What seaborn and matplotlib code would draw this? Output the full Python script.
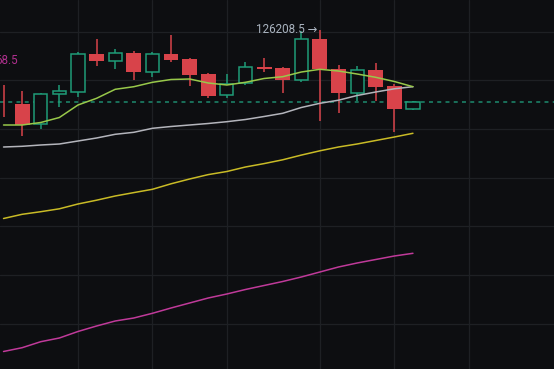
import numpy as np
import pandas as pd
import seaborn as sns
import matplotlib.pyplot as plt

# candle data
opens = [118628, 118546, 116493, 119573, 119840, 123741, 122992, 123844, 121893, 123710,
         123166, 121626, 119470, 120702, 122345, 122242, 121041, 125251, 122140, 119676,
         122068, 120425, 118064]
highs = [120528, 119912, 119706, 120497, 123947, 125251, 124193, 124018, 123885, 125661,
         123269, 121729, 121626, 122858, 123351, 122345, 126072, 126208.5, 122581, 122478,
         122817, 120600, 118885]
lows = [117273, 115322, 115979, 118300, 119265, 122509, 122140, 121041, 121318, 122858,
        120456, 119224, 119162, 120528, 121893, 119737, 120866, 116832, 117622, 118885,
        118885, 115671, 118012]
closes = [118526, 116421, 119604, 119881, 123710, 122992, 123844, 121893, 123710, 123094,
          121554, 119429, 120630, 122345, 122140, 121041, 125220, 122140, 119676, 122068,
          120353, 118064, 118813]

# moving averages
ma_short = [116421, 116421, 116678, 117191, 118474, 119162, 120086, 120353, 120805, 121092,
            121144, 120733, 120528, 120805, 121195, 121380, 121862, 122140, 121965, 121657,
            121318, 120887, 120353]
ma_mid = [114162, 114234, 114368, 114470, 114778, 115086, 115466, 115671, 116082, 116267,
          116421, 116575, 116760, 116986, 117294, 117622, 118218, 118649, 118967, 119450,
          119809, 120138, 120353]
ma_long = [106821, 107252, 107519, 107817, 108310, 108700, 109131, 109480, 109819, 110384,
           110877, 111328, 111647, 112109, 112458, 112848, 113331, 113772, 114162, 114470,
           114829, 115189, 115569]
ma_longest = [93166, 93556, 94172, 94552, 95220, 95784, 96297, 96605, 97088, 97632,
              98146, 98659, 99070, 99532, 99942, 100353, 100815, 101328, 101842, 102252,
              102612, 102971, 103248]

high_label = "126208.5"
side_label = "68.5"
grid_prices = [96000, 101000, 106000, 111000, 116000, 121000, 126000]
grid_bars = [4, 8, 12, 17, 21, 25]

BG = "#0d0e11"
GRID = "#1e2024"
RED = "#d8434a"
GREEN = "#1f9c78"

df = pd.DataFrame({"open": opens, "high": highs, "low": lows, "close": closes,
                   "ma_short": ma_short, "ma_mid": ma_mid, "ma_long": ma_long,
                   "ma_longest": ma_longest})
df["idx"] = np.arange(len(df))

sns.set_theme(style="dark", rc={"axes.facecolor": BG, "figure.facecolor": BG})

fig = plt.figure(figsize=(5.54, 3.69), dpi=100)
ax = fig.add_axes([0, 0, 1, 1])

# last price line
ax.axhline(closes[-1], color="#1d8a6e", lw=1.1, ls=(0, (2.6, 2.8)), zorder=2)

down = df[df["close"] < df["open"]]
up = df[df["close"] >= df["open"]]

ax.vlines(down["idx"], down["low"], down["high"], color=RED, lw=1.1, zorder=3)
ax.bar(down["idx"], down["open"] - down["close"], bottom=down["close"], width=0.8,
       color=RED, lw=0, zorder=4)

ax.vlines(up["idx"], up["close"], up["high"], color=GREEN, lw=1.1, zorder=3)
ax.vlines(up["idx"], up["low"], up["open"], color=GREEN, lw=1.1, zorder=3)
ax.bar(up["idx"], up["close"] - up["open"], bottom=up["open"], width=0.71,
       facecolor=BG, edgecolor=GREEN, lw=1.1, zorder=4)

# moving averages on top
for col, c in [("ma_longest", "#c03a9a"), ("ma_long", "#c9bb26"),
               ("ma_mid", "#b4b5bc"), ("ma_short", "#98c84a")]:
    sns.lineplot(data=df, x="idx", y=col, ax=ax, color=c, lw=1.1, zorder=5, legend=False)

# labels
ax.text(16.87, highs[17], high_label + " \u2192", ha="right", va="center",
        color="#aab4c0", fontsize=8.4, family=["Roboto", "DejaVu Sans"], zorder=6)
ax.text(0.0316, 0.837, side_label, transform=ax.transAxes, ha="right", va="center",
        color="#b0308e", fontsize=8.4, family=["Roboto", "DejaVu Sans"], clip_on=True)

ax.set_xlim(-0.19, 29.58)
ax.set_ylim(91369, 129255)
ax.set_xticks(grid_bars)
ax.set_yticks(grid_prices)
ax.tick_params(length=0, labelbottom=False, labelleft=False)
ax.set_xlabel("")
ax.set_ylabel("")
ax.grid(True, color=GRID, lw=0.9)
ax.set_axisbelow(True)
for s in ax.spines.values():
    s.set_visible(False)

fig.savefig("out.png", dpi=100, facecolor=BG)
